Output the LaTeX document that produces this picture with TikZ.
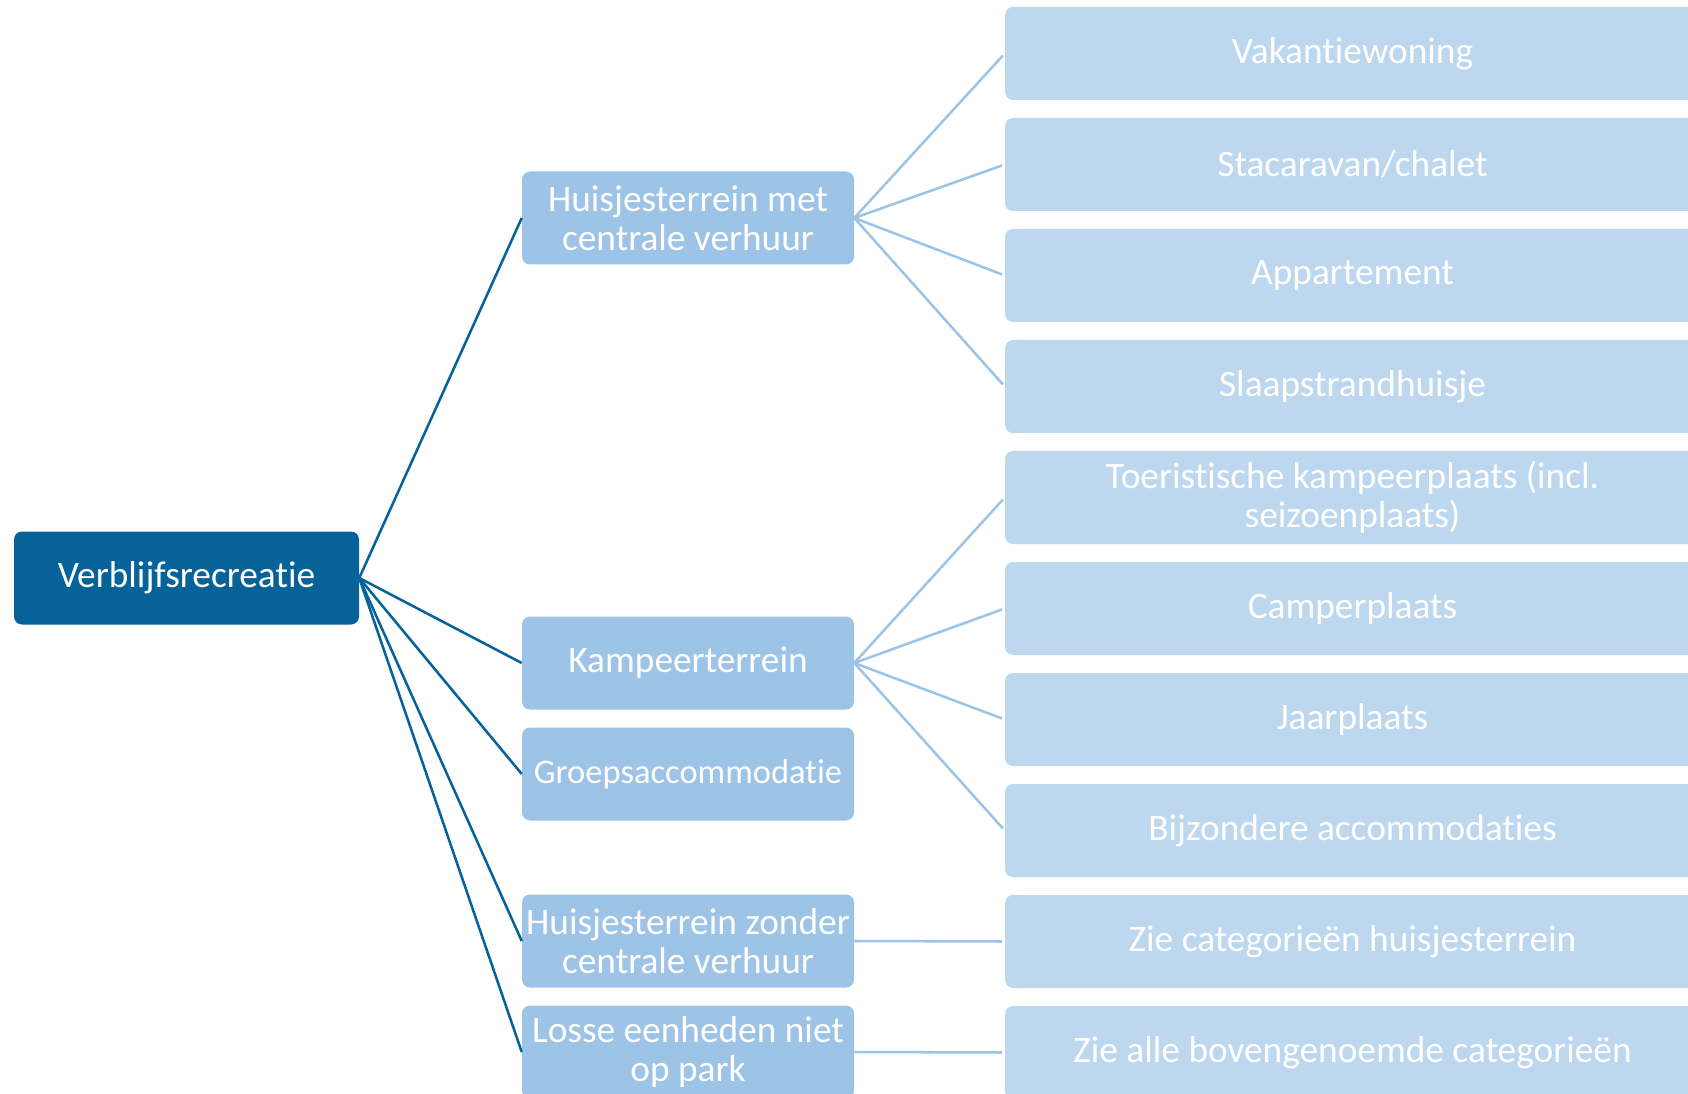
\documentclass[tikz,border=0pt]{standalone}
\usepackage{fontspec}
\setmainfont{Carlito}[Ligatures={NoCommon}]
\definecolor{dark}{RGB}{5,99,153}
\definecolor{mid}{RGB}{157,195,230}
\definecolor{light}{RGB}{189,215,238}
\tikzset{
 box/.style={rectangle, rounded corners=6pt, inner sep=0pt, text=white, align=center,
   font=\fontsize{28}{29.5}\selectfont, minimum height=93*0.75pt},
 rootbox/.style={box, fill=dark, minimum width=345*0.75pt},
 midbox/.style={box, fill=mid, minimum width=332*0.75pt},
 leafbox/.style={box, fill=light, minimum width=695*0.75pt},
 darkline/.style={draw=dark, line width=1.9pt},
 lightline/.style={draw=mid, line width=1.9pt, shorten >=2pt}
}
\begin{document}
\begin{tikzpicture}[x=0.75pt,y=-0.75pt]
\useasboundingbox (0,0) rectangle (1688,1094);
\clip (0,0) rectangle (1688,1094);
% root
\node[rootbox] (root) at (186.5,578) {Verblijfsrecreatie};
% middle column
\node[midbox] (m1) at (688,218) {Huisjesterrein met\\centrale verhuur};
\node[midbox] (m2) at (688,663) {Kampeerterrein};
\node[midbox, font=\fontsize{25.9}{29.5}\selectfont] (m3) at (688,774) {Groepsaccommodatie};
\node[midbox] (m4) at (688,941) {Huisjesterrein zonder\\centrale verhuur};
\node[midbox] (m5) at (688,1052) {Losse eenheden niet\\op park};
% leaves
\node[leafbox] (l0) at (1352.5,53.5) {Vakantiewoning};
\node[leafbox] (l1) at (1352.5,164.5) {Stacaravan/chalet};
\node[leafbox] (l2) at (1352.5,275.5) {Appartement};
\node[leafbox] (l3) at (1352.5,386.5) {Slaapstrandhuisje};
\node[leafbox] (l4) at (1352.5,497.5) {Toeristische kampeerplaats (incl.\\seizoenplaats)};
\node[leafbox] (l5) at (1352.5,608.5) {Camperplaats};
\node[leafbox] (l6) at (1352.5,719.5) {Jaarplaats};
\node[leafbox] (l7) at (1352.5,830.5) {Bijzondere accommodaties};
\node[leafbox] (l8) at (1352.5,941.5) {Zie categorieën huisjesterrein};
\node[leafbox] (l9) at (1352.5,1052.5) {Zie alle bovengenoemde categorieën};
% dark connectors
\foreach \m in {m1,m2,m3,m4,m5}
  \draw[darkline] (root.east) -- (\m.west);
% light connectors
\foreach \l in {l0,l1,l2,l3}
  \draw[lightline] (m1.east) -- (\l.west);
\foreach \l in {l4,l5,l6,l7}
  \draw[lightline] (m2.east) -- (\l.west);
\draw[lightline] (m4.east) -- (l8.west);
\draw[lightline] (m5.east) -- (l9.west);
\end{tikzpicture}
\end{document}
